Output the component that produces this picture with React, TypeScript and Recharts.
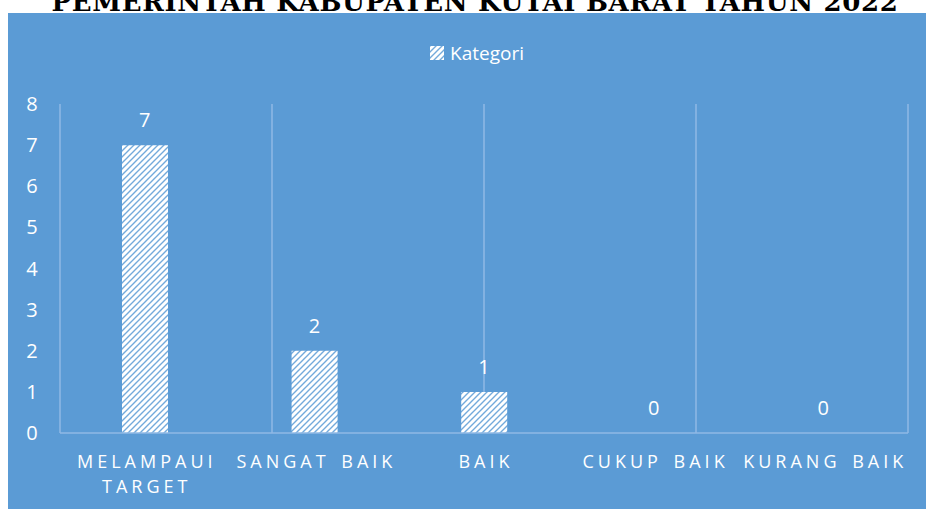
import React from "react";
import { ComposedChart, Bar, Line, XAxis, YAxis, CartesianGrid, LabelList, Legend } from "recharts";

const title = "PEMERINTAH KABUPATEN KUTAI BARAT TAHUN 2022";
const seriesName = "Kategori";
const categories = ["MELAMPAUI TARGET", "SANGAT BAIK", "BAIK", "CUKUP BAIK", "KURANG BAIK"];
const values = [7, 2, 1, 0, 0];
const yTicks = [0, 1, 2, 3, 4, 5, 6, 7, 8];
const boundaryTicks = [0, 1, 2, 3, 4, 5];

const data = categories.map((c, i) => ({ name: c, value: values[i] }));

const BG = "#5b9bd5";
const GRID = "#8fb9e4";
const TEXT = "#ffffff";
const FONT = "'Open Sans', sans-serif";

function wrapLabel(s: string, max: number): string[] {
  const words = s.split(" ");
  const lines: string[] = [];
  let cur = "";
  for (const w of words) {
    const next = cur ? cur + " " + w : w;
    if (next.length > max && cur) {
      lines.push(cur);
      cur = w;
    } else {
      cur = next;
    }
  }
  if (cur) lines.push(cur);
  return lines;
}

const XTick = (props: any) => {
  const { x, y, payload } = props;
  const lines = wrapLabel(String(payload.value), 12);
  return (
    <text
      x={x}
      y={y}
      textAnchor="middle"
      fill={TEXT}
      fontSize={18}
      fontFamily={FONT}
      style={{ letterSpacing: "4px", wordSpacing: "3px" }}
    >
      {lines.map((l, i) => (
        <tspan key={i} x={x + 2} dy={i === 0 ? 35 : 25}>
          {l}
        </tspan>
      ))}
    </text>
  );
};

const YTick = (props: any) => {
  const { y, payload } = props;
  return (
    <text x={24} y={y} dy={7} textAnchor="middle" fill={TEXT} fontSize={20} fontFamily={FONT}>
      {payload.value}
    </text>
  );
};

const ValueLabel = (props: any) => {
  const { x, y, width, value } = props;
  const cx = Number(x) + (Number(width) || 0) / 2;
  return (
    <text x={cx} y={Number(y) - 18} textAnchor="middle" fill={TEXT} fontSize={20} fontFamily={FONT}>
      {value}
    </text>
  );
};

const PatternDef = ({ id }: { id: string }) => (
  <pattern id={id} width={6} height={6} patternUnits="userSpaceOnUse">
    <rect width={6} height={6} fill="#ffffff" />
    <path d="M-1,7 L7,-1 M-1,1 L1,-1 M5,7 L7,5" stroke={BG} strokeWidth={1.4} strokeOpacity={0.85} />
  </pattern>
);

const LegendContent = () => (
  <div
    style={{
      display: "flex",
      justifyContent: "center",
      alignItems: "center",
      paddingLeft: 20,
      fontFamily: FONT,
      fontSize: 19,
      color: TEXT,
    }}
  >
    <svg width={14} height={14} style={{ marginRight: 6 }}>
      <defs>
        <PatternDef id="legendPat" />
      </defs>
      <rect width={14} height={14} fill="url(#legendPat)" />
    </svg>
    <span>{seriesName}</span>
  </div>
);

export default function App() {
  return (
    <div
      style={{
        position: "absolute",
        left: 0,
        top: 0,
        width: 926,
        height: 509,
        background: "#ffffff",
        overflow: "hidden",
      }}
    >
      <svg width={926} height={13} style={{ position: "absolute", left: 0, top: 0 }}>
        <text
          x={475}
          y={11}
          textAnchor="middle"
          fontFamily="'DejaVu Serif', serif"
          fontWeight={900}
          fontSize={26}
          fill="#000"
          style={{ letterSpacing: "0.7px" }}
        >
          {title}
        </text>
      </svg>
      <div
        style={{
          position: "absolute",
          left: 8,
          top: 13,
          width: 918,
          height: 496,
          background: BG,
        }}
      >
        <ComposedChart width={918} height={496} data={data} margin={{ top: 91, right: 18, bottom: 0, left: 0 }}>
          <defs>
            <PatternDef id="barPat" />
          </defs>
          <CartesianGrid xAxisId="grid" horizontal={false} vertical stroke={GRID} strokeWidth={1.5} />
          <XAxis
            xAxisId="grid"
            type="number"
            domain={[0, 5]}
            ticks={boundaryTicks}
            hide
          />
          <XAxis
            xAxisId="cat"
            dataKey="name"
            type="category"
            axisLine={{ stroke: GRID, strokeWidth: 1.5 }}
            tickLine={false}
            tickSize={0}
            tickMargin={0}
            interval={0}
            tick={<XTick />}
            height={76}
          />
          <YAxis
            domain={[0, 8]}
            ticks={yTicks}
            axisLine={false}
            tickLine={false}
            width={52}
            tick={<YTick />}
            interval={0}
          />
          <Legend
            verticalAlign="middle"
            align="center"
            content={<LegendContent />}
            wrapperStyle={{ top: 27, left: 0, width: 918 }}
          />
          <Bar
            xAxisId="cat"
            dataKey="value"
            name={seriesName}
            fill="url(#barPat)"
            barSize={46}
            isAnimationActive={false}
          />
          <Line
            xAxisId="cat"
            dataKey="value"
            stroke="none"
            dot={false}
            activeDot={false}
            legendType="none"
            isAnimationActive={false}
          >
            <LabelList dataKey="value" content={<ValueLabel />} />
          </Line>
        </ComposedChart>
      </div>
    </div>
  );
}
